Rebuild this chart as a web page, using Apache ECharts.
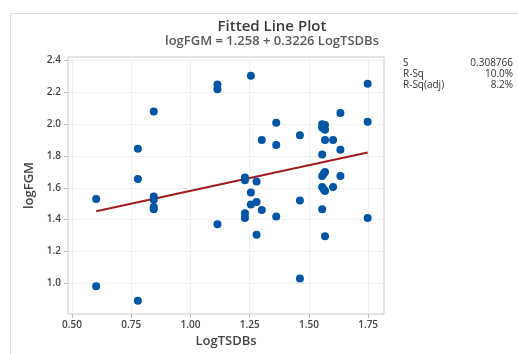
<!DOCTYPE html>
<html>
<head>
<meta charset="utf-8">
<script src="https://cdn.jsdelivr.net/npm/echarts@6/dist/echarts.min.js"></script>
<style>
  html, body { margin: 0; padding: 0; background: #fff; }
  #chart { width: 518px; height: 354px; }
</style>
</head>
<body>
<div id="chart"></div>
<script>
const logTSDBs = [
  0.602, 0.602, 0.778, 0.778, 0.778, 0.845, 0.845, 0.845, 0.845, 0.845,
  1.114, 1.114, 1.114, 1.230, 1.230, 1.230, 1.230, 1.255, 1.255, 1.255,
  1.279, 1.279, 1.279, 1.301, 1.301, 1.362, 1.362, 1.362, 1.462, 1.462,
  1.462, 1.556, 1.556, 1.568, 1.568, 1.568, 1.556, 1.556, 1.563, 1.568,
  1.556, 1.563, 1.568, 1.556, 1.568, 1.602, 1.602, 1.633, 1.633, 1.633,
  1.748, 1.748, 1.748
]
const logFGM = [
  1.53, 0.98, 1.845, 1.655, 0.89, 2.08, 1.545, 1.525, 1.48, 1.465,
  2.25, 2.22, 1.37, 1.665, 1.648, 1.44, 1.41, 2.305, 1.57, 1.495,
  1.64, 1.51, 1.305, 1.90, 1.46, 2.01, 1.87, 1.42, 1.93, 1.52,
  1.03, 2.00, 1.98, 1.995, 1.965, 1.90, 1.81, 1.675, 1.69, 1.70,
  1.605, 1.59, 1.58, 1.465, 1.295, 1.90, 1.605, 2.07, 1.84, 1.675,
  2.255, 2.015, 1.41
]
const xTicks = [0.5, 0.75, 1.0, 1.25, 1.5, 1.75]
const yTicks = [1.0, 1.2, 1.4, 1.6, 1.8, 2.0, 2.2, 2.4]
// regression: logFGM = 1.258 + 0.3226 LogTSDBs
const intercept = 1.258
const slope = 0.3226
const statNames = ['S', 'R-Sq', 'R-Sq(adj)']
const statValues = ['0.308766', '10.0%', '8.2%']

const font = 'Open Sans'
const points = logTSDBs.map((x, i) => [x, logFGM[i]])
const xMin = Math.min(...logTSDBs)
const xMax = Math.max(...logTSDBs)
const fitLine = [[xMin, intercept + slope * xMin], [xMax, intercept + slope * xMax]]

const chart = echarts.init(document.getElementById('chart'))
const statText = []
statNames.forEach((name, i) => {
  statText.push({
    type: 'text', left: 403, top: 58 + i * 11,
    style: { text: name, font: '10px "Open Sans"', fill: '#333' }
  })
  statText.push({
    type: 'text', right: 5, top: 58 + i * 11,
    style: { text: statValues[i], font: '10px "Open Sans"', fill: '#333', textAlign: 'right' }
  })
})

chart.setOption({
  backgroundColor: '#fff',
  textStyle: { fontFamily: font },
  title: {
    text: 'Fitted Line Plot',
    subtext: 'logFGM = 1.258 + 0.3226 LogTSDBs',
    left: 267,
    textAlign: 'center',
    top: 14,
    itemGap: 1,
    textStyle: { fontSize: 15, fontWeight: 600, color: '#3a3a3a', fontFamily: font },
    subtextStyle: { fontSize: 13, fontWeight: 600, color: '#5a5a5a', fontFamily: font }
  },
  graphic: [
    {
      type: 'rect', left: 8, top: 11, z: -1,
      shape: { width: 540, height: 360 },
      style: { fill: 'none', stroke: '#dddddd', lineWidth: 1 }
    }
  ].concat(statText),
  grid: {
    left: 68,
    right: 134,
    top: 57,
    bottom: 40,
    show: true,
    borderColor: '#cccccc',
    borderWidth: 1
  },
  xAxis: {
    type: 'value',
    min: 0.483,
    max: 1.817,
    name: 'LogTSDBs',
    nameLocation: 'middle',
    nameGap: 21,
    nameTextStyle: { fontSize: 13, fontWeight: 600, color: '#444', fontFamily: font },
    axisLine: { show: false },
    axisTick: { show: true, length: 4, customValues: xTicks, lineStyle: { color: '#bbbbbb' } },
    axisLabel: {
      customValues: xTicks,
      fontSize: 10, fontWeight: 600, color: '#444', margin: 6,
      formatter: v => v.toFixed(2)
    },
    splitLine: { show: true, lineStyle: { color: '#f0f0f0' } }
  },
  yAxis: {
    type: 'value',
    min: 0.806,
    max: 2.423,
    name: 'logFGM',
    nameLocation: 'middle',
    nameGap: 32,
    nameTextStyle: { fontSize: 13, fontWeight: 600, color: '#444', fontFamily: font },
    axisLine: { show: false },
    axisTick: { show: true, length: 4, customValues: yTicks, lineStyle: { color: '#bbbbbb' } },
    axisLabel: {
      customValues: yTicks,
      fontSize: 10, fontWeight: 600, color: '#444', margin: 7,
      formatter: v => v.toFixed(1)
    },
    splitLine: { show: true, lineStyle: { color: '#f0f0f0' } }
  },
  series: [
    {
      name: 'Fit',
      type: 'line',
      data: fitLine,
      symbol: 'none',
      lineStyle: { color: '#a31b1b', width: 2 },
      z: 2,
      silent: true
    },
    {
      name: 'logFGM',
      type: 'scatter',
      data: points,
      symbolSize: 8,
      itemStyle: { color: '#0055a5', opacity: 1 },
      z: 3
    }
  ]
})
</script>
</body>
</html>
